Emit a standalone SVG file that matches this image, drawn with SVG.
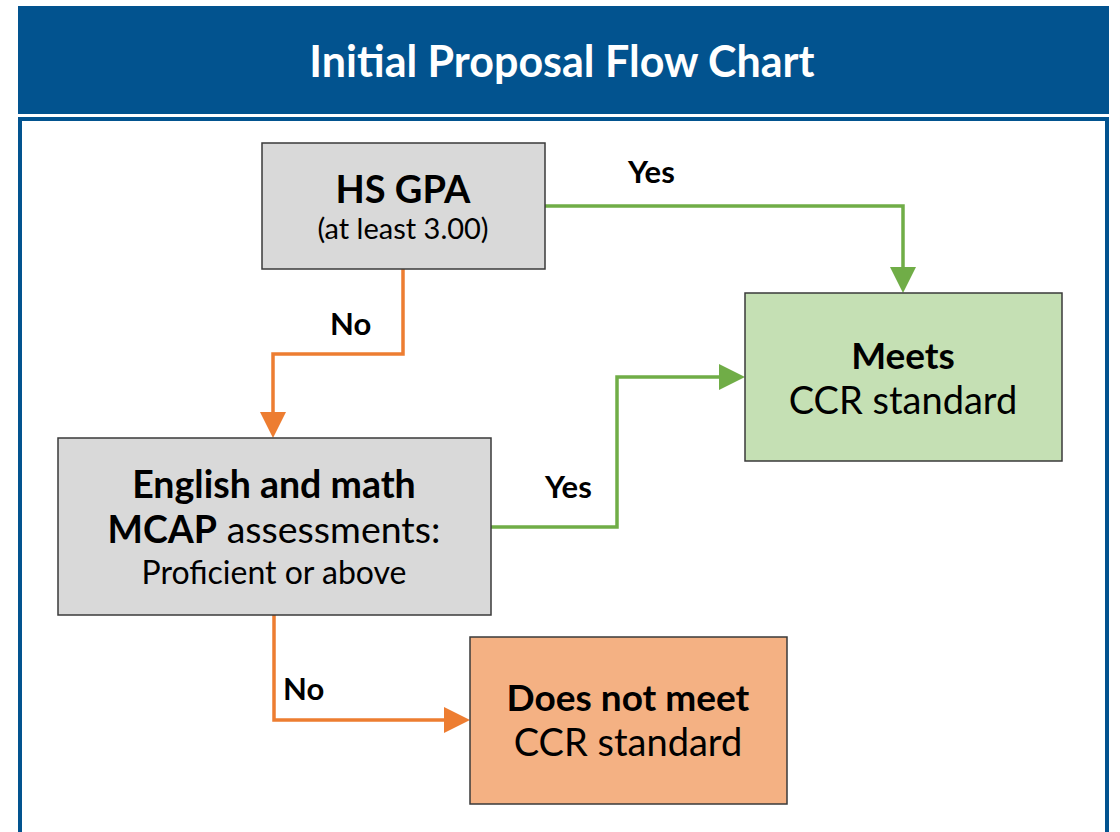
<svg xmlns="http://www.w3.org/2000/svg" width="1120" height="832" viewBox="0 0 1120 832">
<defs>
<style>
.box{stroke:#3a3a3a;stroke-width:1.5}
.gray{fill:#d9d9d9}
.green{fill:#c5e0b4}
.orange{fill:#f4b183}
.t{font-family:Lato,"Noto Sans","Liberation Sans",sans-serif;fill:#000;text-anchor:middle}
.b{font-weight:bold}
.lbl{font-family:Lato,"Noto Sans","Liberation Sans",sans-serif;font-weight:bold;font-size:31px;fill:#000}
.cg{fill:none;stroke:#70ad47;stroke-width:3.5}
.co{fill:none;stroke:#ed7d31;stroke-width:3.5}
</style>
<marker id="ag" viewBox="0 0 26 26" markerWidth="26" markerHeight="26" refX="0" refY="13" orient="auto" markerUnits="userSpaceOnUse"><path d="M0,0 L26,13 L0,26 Z" fill="#70ad47"/></marker>
<marker id="ao" viewBox="0 0 26 26" markerWidth="26" markerHeight="26" refX="0" refY="13" orient="auto" markerUnits="userSpaceOnUse"><path d="M0,0 L26,13 L0,26 Z" fill="#ed7d31"/></marker>
</defs>
<rect width="1120" height="832" fill="#fff"/>
<g id="header">
<rect x="18" y="6" width="1091" height="108" fill="#02538f"/>
<text x="562" y="77" class="t b" style="fill:#fff" font-size="43">Initial Proposal Flow Chart</text>
</g>
<g id="frame">
<rect x="20" y="119" width="1087" height="730" fill="none" stroke="#02538f" stroke-width="4"/>
</g>
<g id="connectors">
<path class="cg" d="M545,206 H903 V267" marker-end="url(#ag)"/>
<path class="co" d="M403,269 V354 H273 V412" marker-end="url(#ao)"/>
<path class="cg" d="M491,527 H617 V377 H719" marker-end="url(#ag)"/>
<path class="co" d="M274,615 V720 H444" marker-end="url(#ao)"/>
<text class="lbl" x="628" y="183">Yes</text>
<text class="lbl" x="330" y="335">No</text>
<text class="lbl" x="545" y="498">Yes</text>
<text class="lbl" x="283" y="700">No</text>
</g>
<g id="hsgpa">
<rect class="box gray" x="262" y="143" width="283" height="126"/>
<text class="t b" x="403" y="203" font-size="38">HS GPA</text>
<text class="t" x="403" y="239" font-size="29">(at least 3.00)</text>
</g>
<g id="meets">
<rect class="box green" x="745" y="293" width="317" height="168"/>
<text class="t b" x="903" y="369" font-size="37">Meets</text>
<text class="t" x="903" y="414" font-size="38">CCR standard</text>
</g>
<g id="mcap">
<rect class="box gray" x="58" y="438" width="433" height="177"/>
<text class="t b" x="274" y="498" font-size="37.5">English and math</text>
<text class="t" x="274" y="543" font-size="37.5"><tspan class="b">MCAP</tspan> assessments:</text>
<text class="t" x="274" y="584" font-size="32">Proficient or above</text>
</g>
<g id="notmeet">
<rect class="box orange" x="470" y="637" width="317" height="167"/>
<text class="t b" x="628" y="711" font-size="37">Does not meet</text>
<text class="t" x="628" y="756" font-size="38">CCR standard</text>
</g>
</svg>
